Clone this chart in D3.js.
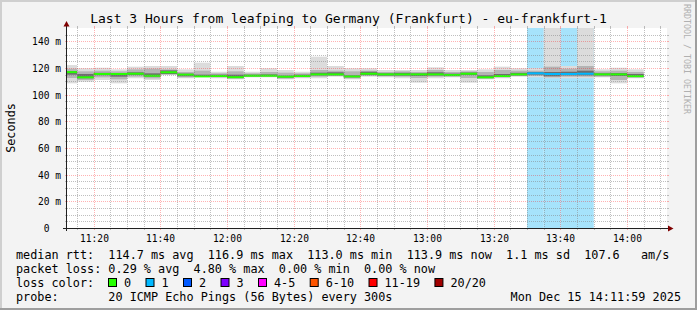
<!DOCTYPE html>
<html>
<head>
<meta charset="utf-8">
<script src="https://cdn.jsdelivr.net/npm/d3@7"></script>
<style>
  html, body { margin: 0; padding: 0; background: #f3f3f3; }
  svg { display: block; font-family: "DejaVu Sans Mono", monospace; }
  text { white-space: pre; }
</style>
</head>
<body>
<div id="chart"></div>
<script>
// 5-minute steps (start time of each step)
const stepStarts = ['11:10', '11:15', '11:20', '11:25', '11:30', '11:35', '11:40', '11:45', '11:50', '11:55',
  '12:00', '12:05', '12:10', '12:15', '12:20', '12:25', '12:30', '12:35', '12:40', '12:45',
  '12:50', '12:55', '13:00', '13:05', '13:10', '13:15', '13:20', '13:25', '13:30', '13:35',
  '13:40', '13:45', '13:50', '13:55', '14:00'];
// median rtt, ms
const median = [116.9, 113.0, 115.5, 115.5, 115.7, 114.2, 116.8, 115.0, 113.7, 114.0,
  113.1, 114.2, 114.2, 113.5, 114.0, 115.2, 115.2, 113.7, 115.7, 115.2,
  115.2, 115.2, 115.2, 114.7, 115.7, 113.0, 114.0, 115.2, 116.0, 115.5,
  115.5, 115.7, 115.2, 115.2, 113.9];
// smoke: outermost pings (min / max)
const outerLo = [108.5, 109.7, 111.0, 108.5, 112.3, 111.0, 114.7, 112.3, 113.5, 112.3,
  111.5, 113.0, 113.0, 111.5, 112.3, 112.3, 113.5, 111.5, 113.5, 113.0,
  112.3, 109.0, 112.3, 113.0, 109.0, 111.5, 112.3, 113.5, 113.0, 112.3,
  112.3, 112.3, 113.0, 108.5, 112.3];
const outerHi = [122.2, 119.8, 120.2, 119.0, 121.0, 121.5, 121.5, 119.0, 124.0, 117.2,
  121.5, 117.2, 119.8, 118.5, 117.2, 128.5, 121.5, 119.8, 119.8, 118.5,
  118.5, 118.5, 120.5, 118.5, 118.5, 119.0, 121.0, 119.8, 119.8, 180.0,
  121.5, 180.0, 119.0, 120.2, 119.0];
// smoke: middle pings
const midLo = [112.5, 111.0, 113.0, 111.5, 113.5, 112.2, 115.0, 113.0, 113.6, 113.0,
  112.0, 113.5, 113.5, 112.0, 113.0, 113.5, 114.0, 112.2, 114.0, 113.8,
  113.5, 112.5, 113.5, 113.5, 112.5, 112.0, 113.0, 114.0, 114.0, 113.0,
  113.5, 113.5, 113.5, 111.0, 112.8];
const midHi = [119.5, 117.5, 118.0, 117.5, 119.0, 119.5, 119.0, 117.0, 118.0, 116.0,
  117.5, 116.0, 117.0, 116.5, 116.0, 118.5, 118.0, 117.5, 118.0, 117.0,
  117.5, 117.0, 118.5, 117.0, 117.5, 117.0, 118.5, 118.0, 118.0, 121.0,
  119.5, 121.5, 117.5, 118.0, 117.0];
// smoke: pings closest to the median
const innerLo = [115.0, 112.3, 114.6, 113.5, 114.8, 113.5, 115.5, 113.8, 113.6, 113.5,
  112.6, 113.8, 113.9, 112.8, 113.5, 114.5, 114.6, 113.0, 114.8, 114.3,
  114.3, 114.0, 114.4, 114.0, 114.8, 112.5, 113.5, 114.5, 115.0, 113.8,
  114.5, 114.5, 114.5, 114.0, 113.5];
const innerHi = [117.6, 115.5, 116.4, 116.2, 116.8, 116.0, 118.2, 115.8, 115.0, 115.0,
  115.0, 115.0, 115.2, 114.2, 115.0, 116.5, 116.8, 114.4, 117.2, 116.0,
  116.4, 116.0, 116.8, 115.8, 116.6, 114.5, 115.5, 116.4, 117.0, 117.0,
  117.2, 118.0, 116.0, 116.2, 115.5];
// lost pings (of 20) per step
const lost = [0, 0, 0, 0, 0, 0, 0, 0, 0, 0,
  0, 0, 0, 0, 0, 0, 0, 0, 0, 0,
  0, 0, 0, 0, 0, 0, 0, 0, 1, 1,
  1, 1, 0, 0, 0];

const yTicks = [0, 20, 40, 60, 80, 100, 120, 140];
const xTickLabels = ['11:20', '11:40', '12:00', '12:20', '12:40', '13:00', '13:20', '13:40', '14:00'];
const lossLabels = ['0', '1', '2', '3', '4-5', '6-10', '11-19', '20/20'];
const lossColors = ['#26ff00', '#00b8ff', '#0059ff', '#7e00ff', '#ff00ff', '#ff5500', '#ff0000', '#a00000'];
const lossBg = ['none', '#a6e3fb', '#a6c3ff', '#cba6ff', '#ffa6ff', '#ffc3a6', '#ffa6a6', '#dca6a6'];

const titleText = 'Last 3 Hours from leafping to Germany (Frankfurt) - eu-frankfurt-1';
const rttLine = 'median rtt:  114.7 ms avg  116.9 ms max  113.0 ms min  113.9 ms now  1.1 ms sd  107.6   am/s';
const lossLine = 'packet loss: 0.29 % avg  4.80 % max  0.00 % min  0.00 % now';
const probeLine = 'probe:       20 ICMP Echo Pings (56 Bytes) every 300s';
const dateText = 'Mon Dec 15 14:11:59 2025';

const W = 697, H = 310;
const L = 67, R = 667, T = 28, B = 228;
const parseT = d3.timeParse('%H:%M:%S');
const tStart = parseT('11:11:59'), tEnd = parseT('14:11:59');

const x = d3.scaleTime().domain([tStart, tEnd]).range([L, R]);
const y = d3.scaleLinear().domain([0, 150]).range([B, T]);

const steps = stepStarts.map((s, i) => {
  const t0 = parseT(s + ':00');
  return {
    t0, t1: d3.timeMinute.offset(t0, 5), med: median[i], lost: lost[i],
    bands: [[outerLo[i], outerHi[i]], [midLo[i], midHi[i]], [innerLo[i], innerHi[i]]],
  };
});

const svg = d3.select('#chart').append('svg').attr('width', W).attr('height', H);

// frame
svg.append('rect').attr('width', W).attr('height', H).attr('fill', '#f3f3f3');
svg.append('rect').attr('x', 0).attr('y', 0).attr('width', W).attr('height', 2).attr('fill', '#cfcfcf');
svg.append('rect').attr('x', 0).attr('y', 0).attr('width', 2).attr('height', H).attr('fill', '#cfcfcf');
svg.append('rect').attr('x', 0).attr('y', H - 2).attr('width', W).attr('height', 2).attr('fill', '#9e9e9e');
svg.append('rect').attr('x', W - 2).attr('y', 0).attr('width', 2).attr('height', H).attr('fill', '#9e9e9e');

// canvas
svg.append('rect').attr('x', L).attr('y', T).attr('width', R - L).attr('height', B - T).attr('fill', '#fff');
svg.append('clipPath').attr('id', 'plot').append('rect')
  .attr('x', L).attr('y', T).attr('width', R - L).attr('height', B - T);

const plot = svg.append('g').attr('clip-path', 'url(#plot)');

// loss background
plot.selectAll('rect.loss')
  .data(steps.filter((d) => d.lost > 0))
  .join('rect')
  .attr('class', 'loss')
  .attr('x', (d) => x(d.t0))
  .attr('width', (d) => x(d.t1) - x(d.t0))
  .attr('y', T)
  .attr('height', B - T)
  .attr('fill', (d) => lossBg[d.lost]);

// smoke
const smokeColors = ['#dcdcdc', '#b4b4b4', '#6e6e6e'];
smokeColors.forEach((c, k) => {
  plot.append('g')
    .selectAll('rect')
    .data(steps)
    .join('rect')
    .attr('x', (d) => x(d.t0))
    .attr('width', (d) => x(d.t1) - x(d.t0))
    .attr('y', (d) => y(d.bands[k][1]))
    .attr('height', (d) => y(d.bands[k][0]) - y(d.bands[k][1]))
    .attr('fill', c);
});

// median, coloured by loss
plot.append('g')
  .selectAll('rect')
  .data(steps)
  .join('rect')
  .attr('x', (d) => x(d.t0))
  .attr('width', (d) => x(d.t1) - x(d.t0))
  .attr('y', (d) => y(d.med) - 1)
  .attr('height', 2)
  .attr('fill', (d) => lossColors[d.lost]);

// grid (on top, like rrdtool)
const grid = svg.append('g');
const minorCol = 'rgba(128,128,128,0.5)';
const majorCol = 'rgba(255,0,0,0.3)';
const px = (v) => Math.round(v) + 0.5;

const xMinor = d3.timeMinute.every(5).range(tStart, tEnd).filter((t) => t.getMinutes() % 20 !== 0);
const xMajor = d3.timeMinute.every(20).range(tStart, tEnd);
const yMinor = d3.range(5, 150, 5).filter((v) => v % 20 !== 0);
const yMajor = yTicks.filter((v) => v > 0);

function vLines(data, col) {
  grid.append('g').selectAll('line').data(data).join('line')
    .attr('x1', (d) => px(x(d))).attr('x2', (d) => px(x(d)))
    .attr('y1', T).attr('y2', B)
    .attr('stroke', col).attr('stroke-dasharray', '1,1');
  grid.append('g').selectAll('path').data(data).join('path')
    .attr('d', (d) => `M${px(x(d))},${T - 2}V${T}M${px(x(d))},${B}V${B + 2}`)
    .attr('stroke', col);
}
function hLines(data, col) {
  grid.append('g').selectAll('line').data(data).join('line')
    .attr('y1', (d) => px(y(d))).attr('y2', (d) => px(y(d)))
    .attr('x1', L).attr('x2', R)
    .attr('stroke', col).attr('stroke-dasharray', '1,1');
  grid.append('g').selectAll('path').data(data).join('path')
    .attr('d', (d) => `M${L - 2},${px(y(d))}H${L}M${R},${px(y(d))}H${R + 2}`)
    .attr('stroke', col);
}
vLines(xMinor, minorCol);
hLines(yMinor, minorCol);
vLines(xMajor, majorCol);
hLines(yMajor, majorCol);

// axes
const axisCol = '#202020';
const arrowCol = '#7f0000';
svg.append('line').attr('x1', L - 4).attr('x2', R + 3).attr('y1', B + 0.5).attr('y2', B + 0.5).attr('stroke', axisCol);
svg.append('line').attr('x1', L - 0.5).attr('x2', L - 0.5).attr('y1', B + 3).attr('y2', T - 3).attr('stroke', axisCol);
svg.append('path').attr('d', `M${L - 0.5},21L${L - 3.5},26.5L${L + 2.5},26.5Z`).attr('fill', arrowCol);
svg.append('path').attr('d', `M${R + 6.5},${B + 0.5}L${R + 1},${B - 2.5}L${R + 1},${B + 3.5}Z`).attr('fill', arrowCol);

// y tick labels
svg.append('g').selectAll('text').data(yTicks).join('text')
  .attr('x', 61).attr('y', (d) => px(y(d)))
  .attr('dy', '0.35em')
  .attr('text-anchor', 'end')
  .attr('font-size', 9.6)
  .attr('fill', '#000')
  .text((d) => (d === 0 ? '0  ' : `${d} m`));

// x tick labels
svg.append('g').selectAll('text').data(xTickLabels).join('text')
  .attr('x', (d) => px(x(parseT(d + ':00'))))
  .attr('y', 242)
  .attr('text-anchor', 'middle')
  .attr('font-size', 9.6)
  .attr('fill', '#000')
  .text((d) => d);

// titles
svg.append('text').attr('x', W / 2).attr('y', 23).attr('text-anchor', 'middle')
  .attr('font-size', 13).attr('fill', '#000').text(titleText);
svg.append('text').attr('transform', `translate(14.5,${(T + B) / 2}) rotate(-90)`)
  .attr('text-anchor', 'middle').attr('font-size', 11.8).attr('fill', '#000').text('Seconds');
svg.append('text').attr('transform', 'translate(684,4) rotate(90)')
  .attr('font-size', 8.3).attr('fill', '#b0b0b0').text('RRDTOOL / TOBI OETIKER');

// legend
const leg = svg.append('g').attr('font-size', 11.8).attr('fill', '#000');
leg.append('text').attr('x', 16).attr('y', 258.5).text(rttLine);
leg.append('text').attr('x', 16).attr('y', 272.7).text(lossLine);
leg.append('text').attr('x', 16).attr('y', 286.9).text('loss color:');
leg.append('text').attr('x', 16).attr('y', 301).text(probeLine);
leg.append('text').attr('x', 681).attr('y', 301).attr('text-anchor', 'end').text(dateText);

const cw = 11.8 * 0.602;
let bx = 108.5;
const boxPos = lossLabels.map((lab) => {
  const p = bx;
  bx += 37.5 + (lab.length - 1) * cw;
  return p;
});
const item = leg.selectAll('g.item').data(lossLabels).join('g')
  .attr('class', 'item')
  .attr('transform', (d, i) => `translate(${boxPos[i]},0)`);
item.append('rect').attr('x', 0).attr('y', 278.5).attr('width', 8).attr('height', 8)
  .attr('fill', (d, i) => lossColors[i]).attr('stroke', '#000').attr('stroke-width', 1);
item.append('text').attr('x', 15.5).attr('y', 286.9).text((d) => d);
</script>
</body>
</html>
